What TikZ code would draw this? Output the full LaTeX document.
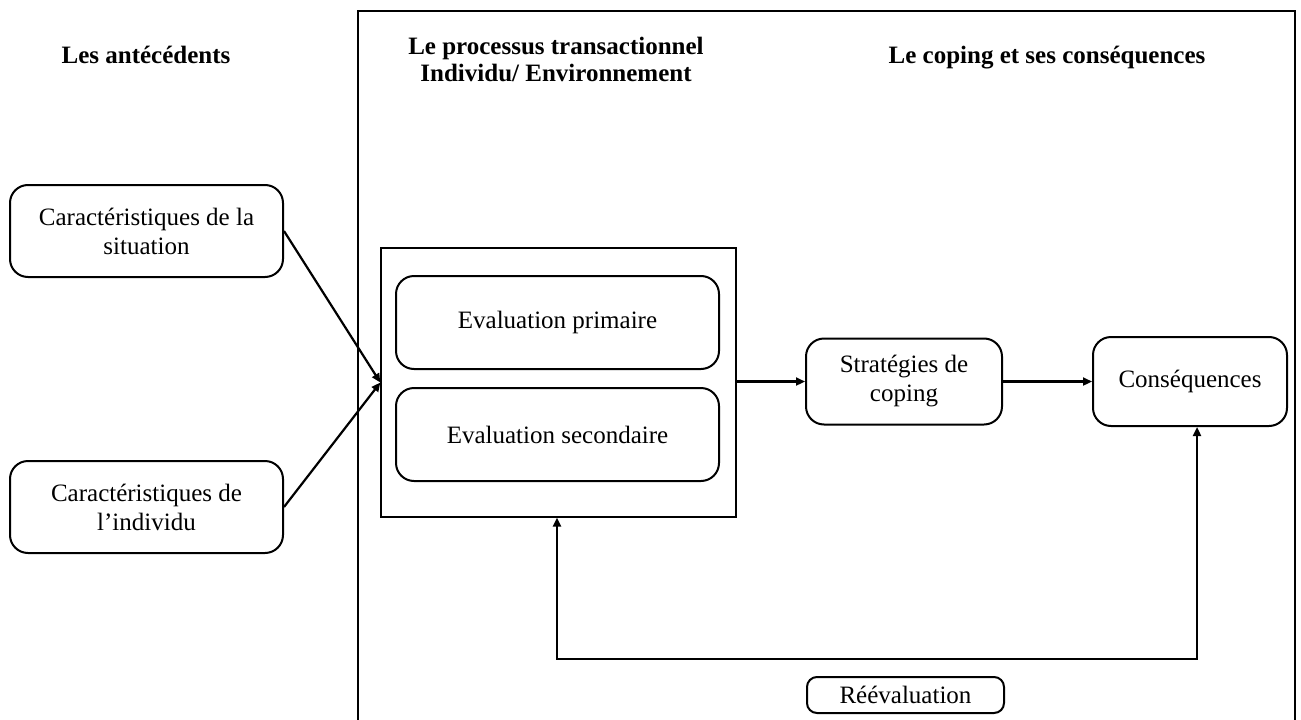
\documentclass[tikz,border=0pt]{standalone}
\usepackage{fontspec}
\setmainfont{Liberation Serif}
\usetikzlibrary{arrows.meta}
\begin{document}
\begin{tikzpicture}[x=1pt,y=-1pt,
  every node/.style={inner sep=0pt},
  txt/.style={font=\fontsize{25}{29}\selectfont, align=center},
  title/.style={font=\fontsize{25}{27}\selectfont\bfseries, align=center},
  rbox/.style={txt, draw, rounded corners=18pt, line width=2pt},
  frame/.style={draw, line width=1.3pt},
  arr/.style={line width=2.2pt, -{Triangle[length=9pt,width=8pt]}},
  darr/.style={line width=2.2pt, {Triangle[length=9pt,width=8pt]}-{Triangle[length=9pt,width=8pt]}}]
\useasboundingbox (0,0) rectangle (1301,720);
\fill[white] (0,0) rectangle (1301,720);

% outer frame around the process and coping columns
\draw[line width=1.3pt] (358,722) -- (358,11) -- (1295,11) -- (1295,722);

% column headings
\node[title] (hAnt) at (146,55) {Les antécédents};
\node[title] (hProc) at (556,59) {Le processus transactionnel\\Individu/ Environnement};
\node[title] (hCop) at (1047,58) {Le coping et ses conséquences};

% antecedents
\node[rbox, minimum width=273pt, minimum height=92pt] (sit) at (146.5,231) {Caractéristiques de la\\situation};
\node[rbox, minimum width=273pt, minimum height=92pt] (ind) at (146.5,507) {Caractéristiques de\\l’individu};

% appraisal block
\node[frame, minimum width=355pt, minimum height=269pt] (eval) at (558.5,382.5) {};
\node[rbox, minimum width=323pt, minimum height=93pt] (prim) at (557.5,322.5) {Evaluation primaire};
\node[rbox, minimum width=323pt, minimum height=93pt] (sec) at (557.5,434.5) {Evaluation secondaire};

% coping and outcomes
\node[rbox, minimum width=196pt, minimum height=86pt] (strat) at (904,381.5) {Stratégies de\\coping};
\node[rbox, minimum width=194pt, minimum height=89pt] (cons) at (1190,381.5) {Conséquences};
\node[rbox, rounded corners=10pt, minimum width=197pt, minimum height=36pt] (reev) at (905.5,695) {Réévaluation};

% connectors
\draw[arr] (sit.east) -- (eval.west);
\draw[arr] (ind.east) -- (eval.west);
\draw[arr] (eval.east |- strat.west) -- (strat.west);
\draw[arr] (strat.east) -- (cons.west);

\coordinate (fbL) at (557,659);
\coordinate (fbR) at (1197,659);
\draw[darr] (fbL |- eval.south) -- (fbL) -- (fbR) -- (fbR |- cons.south);
\end{tikzpicture}
\end{document}
